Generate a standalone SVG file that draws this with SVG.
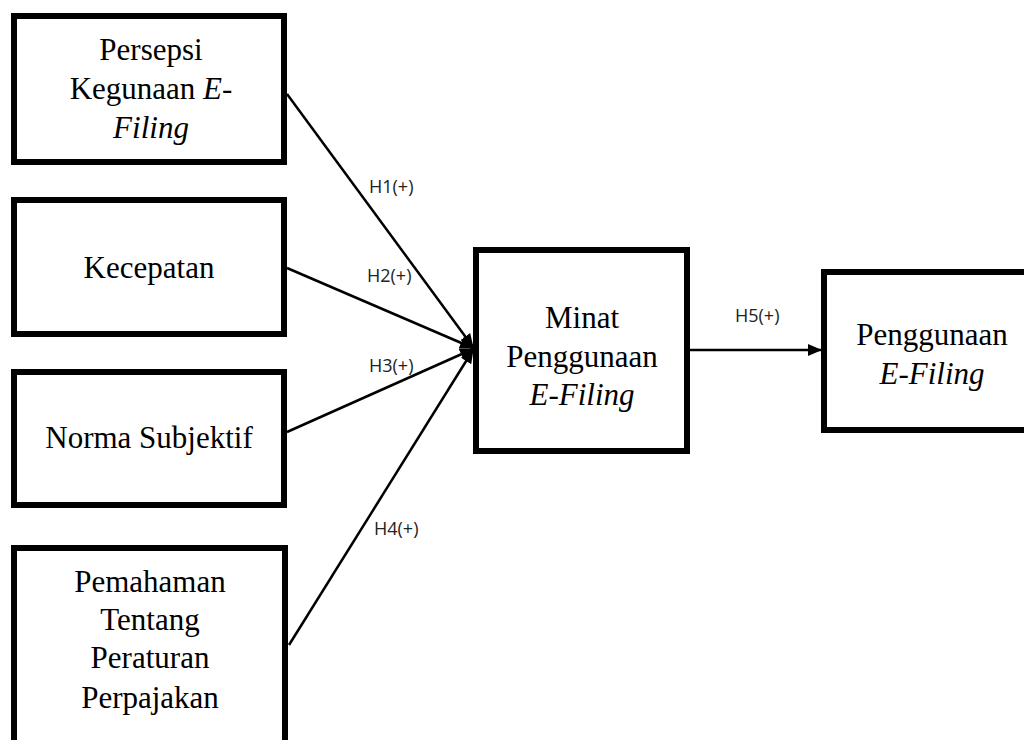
<svg xmlns="http://www.w3.org/2000/svg" width="1024" height="740" viewBox="0 0 1024 740">
<style>
.box{fill:#fff;stroke:#000;stroke-width:6}
.t{font-family:"Liberation Serif","Times New Roman",serif;font-size:31px;fill:#000;text-anchor:middle}
.i{font-style:italic}
.lbl{font-family:"Open Sans","Liberation Sans",sans-serif;font-size:18px;fill:#222}
.edge{stroke:#000;stroke-width:2.5;fill:none}
</style>
<defs>
<marker id="ah" markerUnits="userSpaceOnUse" markerWidth="14" markerHeight="12" refX="13" refY="6" orient="auto">
<path d="M0,0 L14,6 L0,12 Z" fill="#000"/>
</marker>
</defs>
<rect width="1024" height="740" fill="#fff"/>
<g id="connectors">
<line class="edge" x1="287" y1="94" x2="473" y2="347" marker-end="url(#ah)"/>
<line class="edge" x1="287" y1="268" x2="473" y2="348" marker-end="url(#ah)"/>
<line class="edge" x1="287" y1="432" x2="473" y2="349" marker-end="url(#ah)"/>
<line class="edge" x1="289" y1="645" x2="473" y2="350" marker-end="url(#ah)"/>
<line class="edge" x1="690" y1="350" x2="821" y2="350" marker-end="url(#ah)"/>
<text class="lbl" x="369" y="193">H1(+)</text>
<text class="lbl" x="367" y="282">H2(+)</text>
<text class="lbl" x="369" y="372">H3(+)</text>
<text class="lbl" x="374" y="535">H4(+)</text>
<text class="lbl" x="735" y="322">H5(+)</text>
</g>
<g id="node-persepsi">
<rect class="box" x="14" y="16" width="270" height="146"/>
<text class="t" x="151" y="60">Persepsi</text>
<text class="t" x="151" y="99">Kegunaan <tspan class="i">E-</tspan></text>
<text class="t i" x="151" y="138">Filing</text>
</g>
<g id="node-kecepatan">
<rect class="box" x="14" y="200" width="270" height="134"/>
<text class="t" x="149" y="278">Kecepatan</text>
</g>
<g id="node-norma">
<rect class="box" x="14" y="372" width="270" height="133"/>
<text class="t" x="149" y="448">Norma Subjektif</text>
</g>
<g id="node-pemahaman">
<rect class="box" x="14" y="548" width="271" height="200"/>
<text class="t" x="150" y="592">Pemahaman</text>
<text class="t" x="150" y="630">Tentang</text>
<text class="t" x="150" y="668">Peraturan</text>
<text class="t" x="150" y="708">Perpajakan</text>
</g>
<g id="node-minat">
<rect class="box" x="476" y="250" width="211" height="201"/>
<text class="t" x="582" y="328">Minat</text>
<text class="t" x="582" y="367">Penggunaan</text>
<text class="t i" x="582" y="405">E-Filing</text>
</g>
<g id="node-penggunaan">
<rect class="box" x="824" y="272" width="220" height="158"/>
<text class="t" x="932" y="345">Penggunaan</text>
<text class="t i" x="932" y="384">E-Filing</text>
</g>
</svg>
